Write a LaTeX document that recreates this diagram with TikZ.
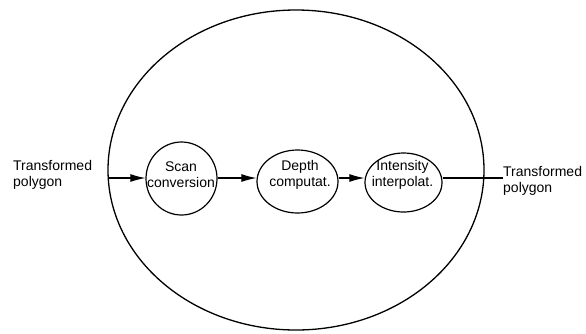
\documentclass[tikz,border=0pt]{standalone}
\usepackage{fontspec}
\setmainfont{Liberation Sans}
\usetikzlibrary{shapes.geometric,arrows.meta}
\begin{document}
\begin{tikzpicture}[x=1pt,y=-1pt,
  stage/.style={draw,ellipse,line width=1.2pt,inner sep=0pt},
  lbl/.style={align=left,inner sep=0pt,font=\fontsize{14}{16}\selectfont},
  flow/.style={line width=1.1pt,-{Latex[length=15pt,width=8pt]}},
  plain/.style={line width=1.1pt}]
\useasboundingbox (0,0) rectangle (586,333);
% enclosing unit
\node[draw,ellipse,line width=1.3pt,minimum width=376pt,minimum height=320pt,inner sep=0pt] (unit) at (296,170) {};
% pipeline stages
\node[stage,minimum width=71pt,minimum height=73pt] (scan) at (181.5,178.5) {};
\node[stage,minimum width=81pt,minimum height=63pt] (depth) at (297.5,181.5) {};
\node[stage,minimum width=77pt,minimum height=59pt] (inten) at (403.5,182.5) {};
\node[lbl,align=center] (scant) at (181,174.5) {Scan\\conversion};
\node[lbl,align=center] (deptht) at (300,175) {Depth\\computat.};
\node[lbl,align=center] (intent) at (402.5,175) {Intensity\\interpolat.};
% input and output
\node[lbl,anchor=west] (inlbl) at (13,175) {Transformed\\polygon};
\node[lbl,anchor=west] (outlbl) at (503,181) {Transformed\\polygon};
\coordinate (inpt) at (108,178);
\coordinate (outpt) at (503,178);
\draw[flow] (inpt) -- (scan.west |- inpt);
\draw[flow] (scan.east |- inpt) -- (depth.west |- inpt);
\draw[flow] (depth.east |- inpt) -- (inten.west |- inpt);
\draw[plain] (inten.east |- inpt) -- (outpt);
\end{tikzpicture}
\end{document}
